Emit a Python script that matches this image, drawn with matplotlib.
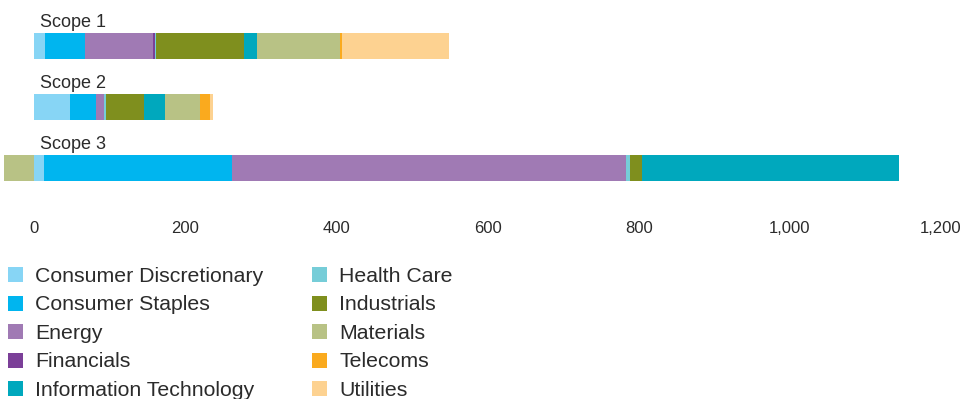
import matplotlib
matplotlib.use("Agg")
import matplotlib.pyplot as plt
from matplotlib.patches import Rectangle
from matplotlib.ticker import FuncFormatter

plt.rcParams["font.family"] = ["Liberation Sans", "DejaVu Sans"]

scopes = ["Scope 1", "Scope 2", "Scope 3"]
sectors = ["Consumer Discretionary", "Consumer Staples", "Energy", "Financials",
           "Health Care", "Industrials", "Information Technology", "Materials",
           "Telecoms", "Utilities"]
colors = ["#87D5F5", "#00B5EF", "#A07AB4", "#7B3F98", "#76CDD8",
          "#7F8F1E", "#00A8BD", "#B8C285", "#FAAA1E", "#FDD291"]

# emissions per sector, one list per scope (same order as sectors)
scope1 = [14.6, 53.0, 90.0, 1.7, 1.3, 117.0, 17.6, 110.0, 1.7, 142.5]
scope2 = [47.7, 33.5, 11.5, 0.0, 2.2, 50.3, 28.2, 45.9, 13.7, 4.0]
scope3 = [13.2, 248.4, 522.0, 0.0, 5.3, 15.9, 340.0, -39.7, 0.0, 0.0]
values = [scope1, scope2, scope3]

legend_order = ["Consumer Discretionary", "Consumer Staples", "Energy", "Financials",
                "Information Technology", "Health Care", "Industrials", "Materials",
                "Telecoms", "Utilities"]

xticks = [0, 200, 400, 600, 800, 1000, 1200]

W, H = 960, 399
fig = plt.figure(figsize=(W / 100, H / 100), dpi=100)
ax_top, ax_bot, ax_right = 0, 205, 941
ax = fig.add_axes([0, 1 - ax_bot / H, ax_right / W, (ax_bot - ax_top) / H])

bar_h = 0.426
for row, vals in enumerate(values):
    pos_left = 0.0
    neg_left = 0.0
    for v, c in zip(vals, colors):
        if v > 0:
            ax.barh(row, v, left=pos_left, height=bar_h, color=c, linewidth=0)
            pos_left += v
        elif v < 0:
            ax.barh(row, v, left=neg_left, height=bar_h, color=c, linewidth=0)
            neg_left += v
    ax.text(7.5, row - 0.39, scopes[row], fontsize=13, color="#2b2b2b",
            ha="left", va="center")

ax.set_xlim(-45.4, 1200)
ax.set_ylim(2.607, -0.754)
ax.set_yticks([])
ax.set_xticks(xticks)
ax.xaxis.set_major_formatter(FuncFormatter(lambda v, p: f"{v:,.0f}"))
ax.tick_params(axis="x", length=0, pad=11.5, labelsize=12, labelcolor="#2b2b2b")
for s in ax.spines.values():
    s.set_visible(False)

# legend in two columns: square swatch, label sitting on the swatch's baseline
col_x = [8, 312]
row_y = [274.7, 303.0, 331.5, 360.0, 388.3]
for i, name in enumerate(legend_order):
    col, r = divmod(i, 5)
    c = colors[sectors.index(name)]
    x0, yc = col_x[col], row_y[r]
    fig.add_artist(Rectangle((x0 / W, 1 - (yc + 7.5) / H), 15 / W, 15 / H,
                             transform=fig.transFigure, color=c, linewidth=0))
    fig.text((x0 + 27) / W, 1 - (yc + 7.3) / H, name, fontsize=15.3, color="#2b2b2b",
             ha="left", va="baseline")

fig.savefig("out.png", dpi=100)
